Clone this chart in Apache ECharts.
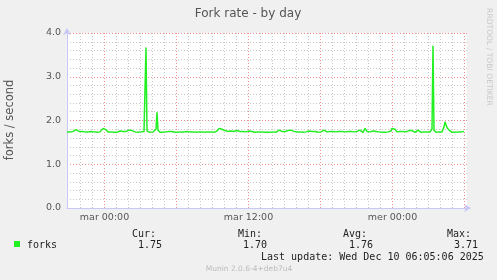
<!DOCTYPE html>
<html>
<head>
<meta charset="utf-8">
<script src="https://cdn.jsdelivr.net/npm/echarts@6/dist/echarts.min.js"></script>
<style>
html,body{margin:0;padding:0;background:#f0f0f0;}
#chart{width:497px;height:280px;}
</style>
</head>
<body>
<div id="chart"></div>
<script>
// ---- data ----
// time axis in hours relative to "mar 00:00"; one sample every 5 minutes
const startHour = -37.5 / 12;
const endHour = 362.5 / 12;
const stepHours = 5 / 60;
const forks = [
  1.74,1.73,1.75,1.74,1.73,1.74,1.75,1.74,1.76,1.79,1.82,1.78,
  1.75,1.74,1.73,1.75,1.74,1.73,1.74,1.76,1.75,1.74,1.73,1.74,
  1.75,1.73,1.74,1.74,1.76,1.75,1.73,1.74,1.75,1.74,1.76,1.78,
  1.82,1.84,1.83,1.79,1.76,1.74,1.75,1.73,1.74,1.75,1.74,1.73,
  1.74,1.75,1.73,1.74,1.74,1.76,1.74,1.73,1.75,1.74,1.73,1.75,
  1.74,1.76,1.78,1.80,1.81,1.77,1.75,1.73,1.74,1.75,1.74,1.73,
  1.74,1.75,1.74,1.73,1.74,1.75,1.76,3.67,1.76,1.73,1.72,1.73,
  1.74,1.73,1.74,1.73,1.74,1.80,2.19,1.78,1.74,1.73,1.74,1.75,
  1.73,1.74,1.75,1.74,1.73,1.74,1.75,1.74,1.73,1.75,1.77,1.74,
  1.73,1.74,1.75,1.73,1.74,1.76,1.74,1.73,1.75,1.74,1.73,1.74,
  1.75,1.74,1.76,1.74,1.73,1.75,1.74,1.77,1.75,1.73,1.74,1.75,
  1.74,1.73,1.75,1.74,1.76,1.74,1.73,1.74,1.75,1.74,1.73,1.75,
  1.74,1.76,1.74,1.73,1.75,1.74,1.76,1.79,1.82,1.81,1.78,1.80,
  1.83,1.79,1.77,1.76,1.74,1.75,1.73,1.74,1.76,1.74,1.73,1.75,
  1.74,1.76,1.77,1.74,1.73,1.75,1.74,1.73,1.75,1.74,1.76,1.74,
  1.73,1.74,1.76,1.74,1.73,1.75,1.77,1.74,1.73,1.74,1.75,1.74,
  1.73,1.75,1.74,1.72,1.74,1.73,1.72,1.70,1.73,1.74,1.75,1.73,
  1.74,1.75,1.74,1.76,1.74,1.73,1.75,1.76,1.78,1.76,1.74,1.75,
  1.74,1.73,1.75,1.74,1.76,1.77,1.74,1.75,1.78,1.79,1.76,1.75,
  1.74,1.75,1.74,1.73,1.75,1.74,1.76,1.74,1.73,1.74,1.75,1.74,
  1.73,1.74,1.76,1.74,1.73,1.75,1.74,1.73,1.75,1.76,1.74,1.73,
  1.74,1.75,1.74,1.73,1.75,1.78,1.81,1.77,1.74,1.73,1.74,1.75,
  1.74,1.73,1.75,1.74,1.76,1.74,1.73,1.74,1.75,1.74,1.73,1.75,
  1.74,1.76,1.74,1.73,1.74,1.75,1.74,1.73,1.75,1.74,1.76,1.74,
  1.73,1.74,1.75,1.74,1.76,1.78,1.76,1.74,1.73,1.75,1.82,1.78,
  1.75,1.74,1.73,1.74,1.75,1.74,1.76,1.74,1.73,1.75,1.74,1.73,
  1.74,1.75,1.74,1.73,1.75,1.74,1.73,1.74,1.76,1.74,1.73,1.75,
  1.76,1.82,1.80,1.84,1.80,1.76,1.74,1.73,1.74,1.75,1.74,1.73,
  1.75,1.74,1.76,1.74,1.73,1.74,1.77,1.75,1.79,1.77,1.75,1.74,
  1.73,1.75,1.76,1.78,1.77,1.74,1.73,1.74,1.76,1.74,1.73,1.75,
  1.74,1.73,1.75,1.74,1.76,1.80,3.71,1.78,1.74,1.73,1.74,1.75,
  1.74,1.73,1.75,1.74,1.76,1.85,1.97,1.97,1.84,1.83,1.78,1.76,
  1.74,1.73,1.75,1.74,1.73,1.74,1.75,1.74,1.73,1.75,1.74,1.73,
  1.74,1.75
];
const minorHourTicks = [-2,-1,1,2,3,4,5,7,8,9,10,11,13,14,15,16,17,19,20,21,22,23,25,26,27,28,29];
const majorHourTicks = [0,6,12,18,24,30];
const labelHourTicks = [0,12,24];
const labelTexts = ['mar 00:00','mar 12:00','mer 00:00'];
const yMin = 0, yMax = 4, yStep = 1;
const title = 'Fork rate - by day';
const yName = 'forks / second';
const seriesName = 'forks';
const statHeaders = ['Cur:','Min:','Avg:','Max:'];
const statValues = ['1.75','1.70','1.76','3.71'];
const lastUpdate = 'Last update: Wed Dec 10 06:05:06 2025';
const watermark = 'RRDTOOL / TOBI OETIKER';
const footer = 'Munin 2.0.6-4+deb7u4';

// ---- chart ----
const green = '#22f022';
const axisColor = '#c8c8f4';
const minorGrid = '#c8c8c8';
const majorGrid = '#f09090';
const seriesData = forks.map((v, i) => [startHour + i * stepHours, v]);

const chart = echarts.init(document.getElementById('chart'), null, {renderer: 'canvas'});
const statX = [132, 238, 343, 447];
const valX = [138, 243, 349, 454];

function txt(x, y, text, font, fill, align, extra) {
  return Object.assign({type:'text', x:x, y:y, style:{text:text, font:font, fill:fill,
    align:align, verticalAlign:'middle', textAlign:align, textVerticalAlign:'middle'}}, extra || {});
}
const mono = '10px "DejaVu Sans Mono"';
const graphics = [
  txt(248, 14, title, '12px "DejaVu Sans"', '#555', 'center'),
  txt(10, 120, yName, '11.5px "DejaVu Sans"', '#555', 'center', {rotation:Math.PI/2}),
  txt(489, 57, watermark, '7.6px "DejaVu Sans"', '#c8c8c8', 'center', {rotation:-Math.PI/2}),
  {type:'rect', shape:{x:14, y:241, width:6, height:6}, style:{fill:green}},
  txt(27, 245, seriesName, mono, '#222', 'left'),
  txt(261, 257, lastUpdate, mono, '#222', 'left'),
  txt(249, 269, footer, '7.5px "DejaVu Sans"', '#bbb', 'center')
];
statHeaders.forEach((h, k) => {
  graphics.push(txt(statX[k], 234, h, mono, '#222', 'left'));
  graphics.push(txt(valX[k], 245, statValues[k], mono, '#222', 'left'));
});

const vLines = minorHourTicks.map(h => ({xAxis:h, lineStyle:{color:minorGrid, type:[1,2], width:1}}))
  .concat(majorHourTicks.map(h => ({xAxis:h, lineStyle:{color:majorGrid, type:[1,2], width:1}})));

const option = {
  animation: false,
  backgroundColor: '#f0f0f0',
  grid: {left:67, right:30, top:33, bottom:72, show:true, backgroundColor:'#ffffff', borderWidth:0},
  xAxis: {
    type:'value', min:startHour, max:endHour, position:'bottom',
    axisLine:{show:true, onZero:false, lineStyle:{color:axisColor, width:1}, symbol:['none','arrow'], symbolSize:[6,7], symbolOffset:[0,4]},
    axisTick:{show:false},
    axisLabel:{show:true, customValues:labelHourTicks, margin:5, color:'#555', fontFamily:'DejaVu Sans', fontSize:9.5,
      formatter:(v) => labelTexts[labelHourTicks.indexOf(Math.round(v))] || ''},
    splitLine:{show:false}
  },
  yAxis: {
    type:'value', min:yMin, max:yMax, interval:yStep, position:'left',
    axisLine:{show:true, onZero:false, lineStyle:{color:axisColor, width:1}, symbol:['none','arrow'], symbolSize:[6,7], symbolOffset:[0,5]},
    axisTick:{show:false},
    axisLabel:{show:true, margin:6, color:'#555', fontFamily:'DejaVu Sans', fontSize:9.5, formatter:(v) => v.toFixed(1)},
    splitLine:{show:true, lineStyle:{color:majorGrid, type:[1,2], width:1}},
    minorTick:{show:false, splitNumber:5},
    minorSplitLine:{show:true, lineStyle:{color:minorGrid, type:[1,2], width:1}}
  },
  series: [
    {
      name:'grid', type:'line', data:[], z:1, silent:true,
      markLine:{silent:true, symbol:['none','none'], label:{show:false}, animation:false, data:vLines}
    },
    {
      name: seriesName, type:'line', data: seriesData,
      showSymbol:false, symbol:'none', smooth:false,
      lineStyle:{color:green, width:1.5}, z:5
    }
  ],
  graphic: graphics
};
chart.setOption(option);
</script>
</body>
</html>
